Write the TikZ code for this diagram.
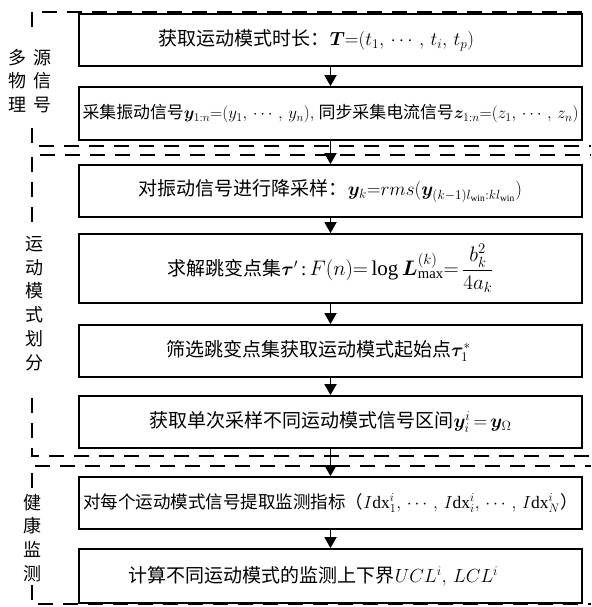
\RequirePackage{fix-cm}
\documentclass[tikz,border=0pt]{standalone}
\usepackage{amsmath}
\usepackage{graphicx}
\usepackage{fontspec}
\setmainfont{Liberation Serif}
\newfontfamily\cjk{Noto Sans CJK SC}
\usepackage{bm}
\usetikzlibrary{arrows.meta}
\newcommand\zh[1]{{\cjk #1}}
\tikzset{
  box/.style={draw, line width=1.8pt, fill=white, minimum width=503pt, inner sep=0pt,
    font=\fontsize{19}{23}\selectfont},
  grp/.style={line width=2pt, dash pattern=on 15pt off 10pt},
  arr/.style={line width=1.8pt, -{Triangle[length=11pt,width=12pt]}},
  lab/.style={align=center, inner sep=0pt, font=\cjk\fontsize{18}{23.8}\selectfont}
}
\begin{document}
\begin{tikzpicture}[x=1pt,y=-1pt]
\useasboundingbox[fill=white] (0,0) rectangle (591,607);
% group frames
\draw[grp] (32,27) -- (32,12) -- (591,12);
\draw[grp] (32,128) -- (32,146) -- (591,146);
\draw[grp] (32,222) -- (32,155) -- (591,155);
\draw[grp] (32,398) -- (32,456) -- (591,456);
\draw[grp] (32,488) -- (32,466) -- (591,466);
\draw[grp] (32,585) -- (32,604) -- (591,604);
% labels
\node[lab] (l1) at (30.5,81) {多\hspace{7pt}源\\物\hspace{7pt}信\\理\hspace{7pt}号};
\node[lab] (l2) at (34,303.5) {运\\动\\模\\式\\划\\分};
\node[lab] (l3) at (32,538) {健\\康\\监\\测};
% boxes
\node[box, minimum height=52pt] (b1) at (330.5,40)
  {\hspace*{-28pt}\zh{获取运动模式时长：}$\bm{T}{=}(t_1,\, \cdots,\, t_i,\, t_p)$};
\node[box, minimum height=53pt] (b2) at (330.5,113.5)
  {\resizebox{496pt}{!}{\zh{采集振动信号}$\bm{y}_{1:n}{=}(y_1,\, \cdots,\, y_n),$ \zh{同步采集电流信号}$\bm{z}_{1:n}{=}(z_1,\, \cdots,\, z_n)$}};
\node[box, minimum height=52pt] (b3) at (330.5,191)
  {\zh{对振动信号进行降采样：}$\bm{y}_k{=}rms(\bm{y}_{(k-1)l_{\mathrm{win}}:kl_{\mathrm{win}}})$};
\node[box, minimum height=69pt] (b4) at (330.5,268.5)
  {\zh{求解跳变点集}$\bm{\tau}'$\,:\,{\fontsize{21}{25}\selectfont$F(n){=}\log \bm{L}^{(k)}_{\max}{=}\,\dfrac{b_k^2}{4a_k}$}};
\node[box, minimum height=52pt] (b5) at (330.5,351)
  {\hspace*{-24pt}\zh{筛选跳变点集获取运动模式起始点}$\bm{\tau}_1^*$};
\node[box, minimum height=52pt] (b6) at (330.5,422)
  {\zh{获取单次采样不同运动模式信号区间}$\bm{y}_i^{i}\,{=}\,\bm{y}_\Omega$};
\node[box, minimum height=52pt] (b7) at (330.5,503)
  {\resizebox{494pt}{!}{\zh{对每个运动模式信号提取监测指标（}$I\mathrm{dx}_1^i,\, \cdots,\, I\mathrm{dx}_i^i,\, \cdots,\, I\mathrm{dx}_N^i$\zh{）}}};
\node[box, minimum height=54pt] (b8) at (330.5,576)
  {\hspace*{-34pt}\zh{计算不同运动模式的监测上下界}$UCL^i,\, LCL^i$};
% arrows
\draw[arr] (b1.south) -- (b2.north);
\draw[arr] (b2.south) -- (b3.north);
\draw[arr] (b3.south) -- (b4.north);
\draw[arr] (b4.south) -- (b5.north);
\draw[arr] (b5.south) -- (b6.north);
\draw[arr] (b6.south) -- (b7.north);
\draw[arr] (b7.south) -- (b8.north);
\end{tikzpicture}
\end{document}
